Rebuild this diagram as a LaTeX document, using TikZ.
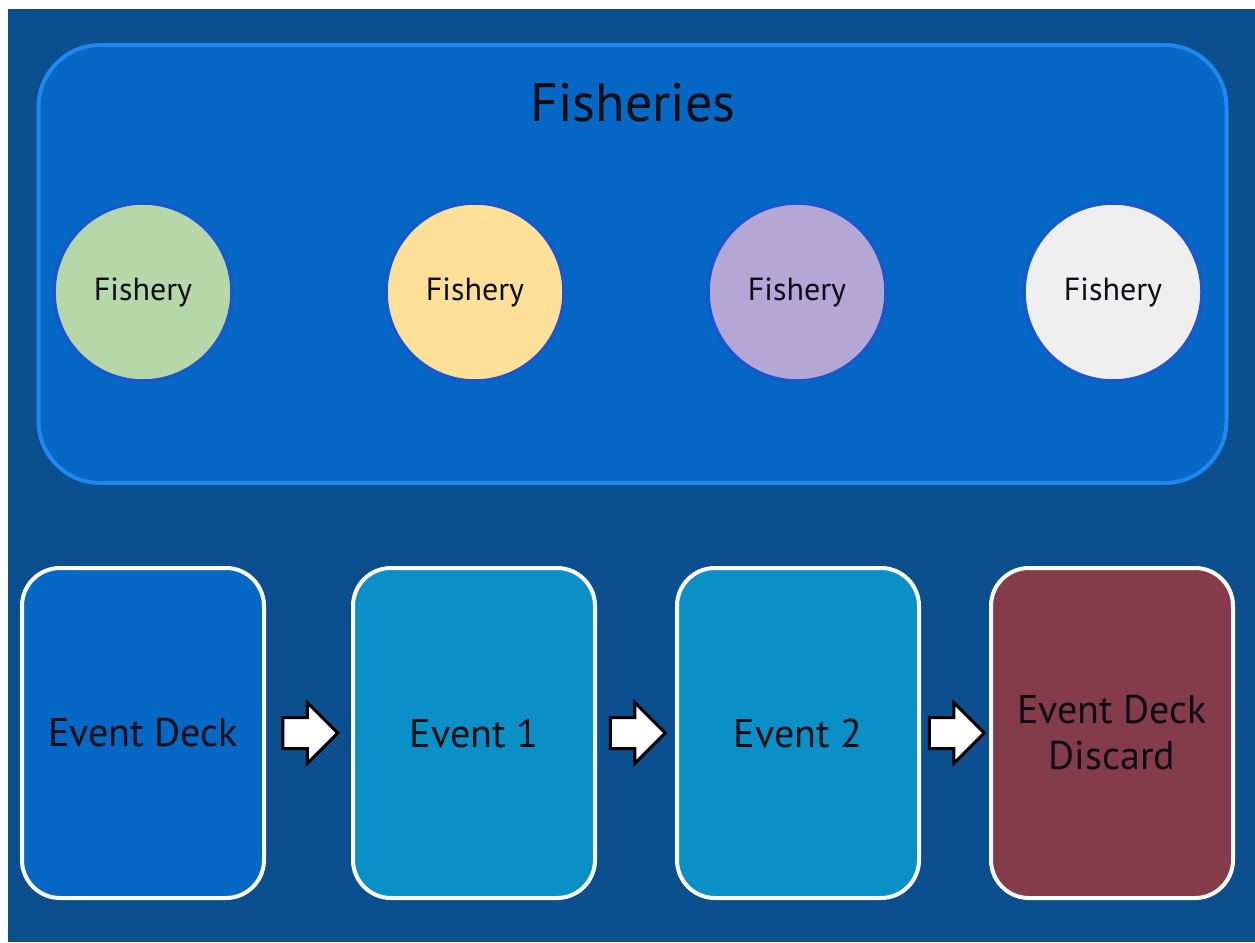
\documentclass[tikz,border=0pt]{standalone}
\usepackage{fontspec}
\setmainfont{PT Sans}
\usetikzlibrary{shapes.arrows,calc}

\definecolor{pagebg}{HTML}{0B4F8F}
\definecolor{panelfill}{HTML}{0468C4}
\definecolor{panelline}{HTML}{1E88F0}
\definecolor{ringline}{HTML}{1558D0}
\definecolor{fishgreen}{HTML}{B6D7A8}
\definecolor{fishyellow}{HTML}{FFE099}
\definecolor{fishpurple}{HTML}{B4A7D6}
\definecolor{fishwhite}{HTML}{EFEFEF}
\definecolor{eventfill}{HTML}{0A8FC7}
\definecolor{discardfill}{HTML}{843C4B}
\definecolor{inktext}{HTML}{0D0D14}

\tikzset{
  panel/.style={draw=panelline, line width=4pt, fill=panelfill,
    rounded corners=62pt, minimum width=1188pt, minimum height=438pt},
  fishery/.style={circle, draw=ringline, line width=3.5pt,
    minimum size=178pt, inner sep=0pt, text=inktext,
    font=\fontsize{32}{36}\selectfont},
  card/.style={draw=white, line width=4pt, rounded corners=38pt,
    minimum width=242pt, minimum height=330pt, inner sep=0pt,
    text=inktext, align=center, font=\fontsize{40}{46}\selectfont},
  flowarrow/.style={single arrow, draw=black, fill=white, line width=3pt,
    minimum height=55pt, minimum width=58pt, inner sep=0pt,
    single arrow head extend=15pt, text height=28pt, text depth=0pt,
    text width=0pt, xshift=-6pt}
}

\begin{document}
\begin{tikzpicture}[x=1pt,y=-1pt]
  \useasboundingbox (0,0) rectangle (1255,942);
  \fill[white] (0,0) rectangle (1255,942);
  \fill[pagebg] (8,9) rectangle (1255,942);

  % fisheries panel with its four fishery circles
  \node[panel] (fisheries) at (632.5,264) {};
  \node[text=inktext, font=\fontsize{54}{60}\selectfont] (title) at (633,103) {Fisheries};
  \node[fishery, fill=fishgreen]  (f1) at (143,292) {Fishery};
  \node[fishery, fill=fishyellow] (f2) at (475,292) {Fishery};
  \node[fishery, fill=fishpurple] (f3) at (797,292) {Fishery};
  \node[fishery, fill=fishwhite]  (f4) at (1113,292) {Fishery};

  % event cards
  \node[card, fill=panelfill]   (deck)    at (143,733)  {Event Deck};
  \node[card, fill=eventfill]   (ev1)     at (474,733)  {Event 1};
  \node[card, fill=eventfill]   (ev2)     at (798,733)  {Event 2};
  \node[card, fill=discardfill] (discard) at (1112,733) {Event Deck\\Discard};

  % block arrows between consecutive cards
  \node[flowarrow] (a1) at ($(deck.east)!0.5!(ev1.west)$) {};
  \node[flowarrow] (a2) at ($(ev1.east)!0.5!(ev2.west)$) {};
  \node[flowarrow] (a3) at ($(ev2.east)!0.5!(discard.west)$) {};
\end{tikzpicture}
\end{document}
